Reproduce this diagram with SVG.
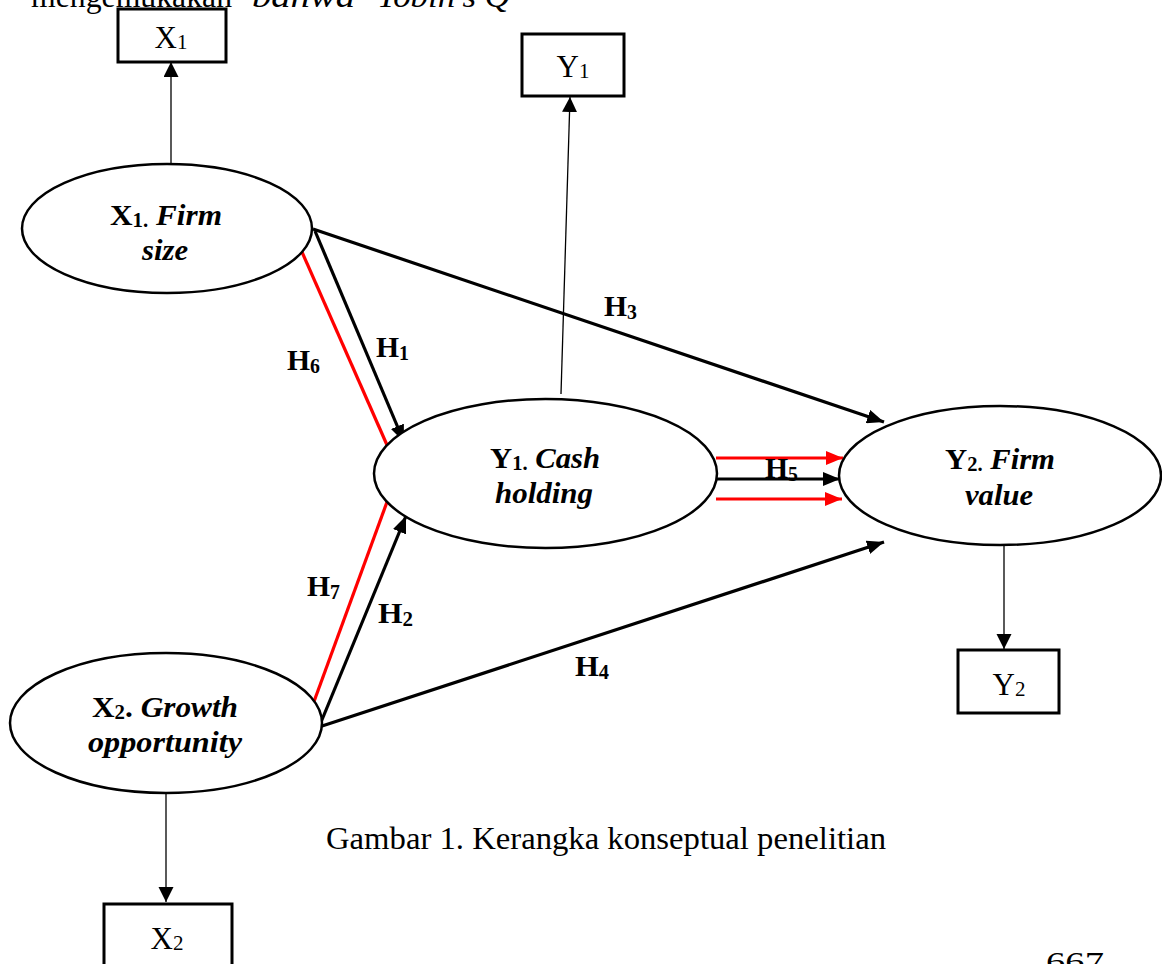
<svg xmlns="http://www.w3.org/2000/svg" width="1162" height="964" viewBox="0 0 1162 964">
<style>
  text { font-family: "Liberation Serif", "Times New Roman", serif; fill: #000; }
  .ell { fill: #fff; stroke: #000; stroke-width: 2.5; }
  .box { fill: #fff; stroke: #000; stroke-width: 3; }
  .thin { stroke: #000; stroke-width: 1.3; fill: none; }
  .thick { stroke: #000; stroke-width: 3.2; fill: none; }
  .red { stroke: #ff0000; stroke-width: 3.2; fill: none; }
  .nt { font-size: 30px; font-weight: bold; text-anchor: middle; }
  .it { font-style: italic; }
  .sub { font-size: 20px; }
  .bx { font-size: 31px; text-anchor: middle; }
  .bsub { font-size: 21px; }
  .hl { font-size: 30px; font-weight: bold; }
  .hsub { font-size: 20px; }
  .cap { font-size: 32px; }
</style>
<defs>
  <marker id="ah" markerUnits="userSpaceOnUse" markerWidth="18" markerHeight="14" refX="17" refY="7" orient="auto">
    <path d="M0,0 L17,7 L0,14 z" fill="#000"/>
  </marker>
  <marker id="ahr" markerUnits="userSpaceOnUse" markerWidth="18" markerHeight="14" refX="17" refY="7" orient="auto">
    <path d="M0,0 L17,7 L0,14 z" fill="#ff0000"/>
  </marker>
  <marker id="ahs" markerUnits="userSpaceOnUse" markerWidth="16" markerHeight="16" refX="15" refY="7.5" orient="auto">
    <path d="M0,0 L15,7.5 L0,15 z" fill="#000"/>
  </marker>
</defs>

<rect width="1162" height="964" fill="#fff"/>

<!-- header text, cut by the top edge as in the reference -->
<g id="header">
  <text x="31" y="7" font-size="32" textLength="201" lengthAdjust="spacingAndGlyphs">mengemukakan</text>
  <text x="252" y="7" font-size="32" font-style="italic" textLength="103" lengthAdjust="spacingAndGlyphs">bahwa</text>
  <text x="377" y="7" font-size="32" font-style="italic" textLength="133" lengthAdjust="spacingAndGlyphs">Tobin's Q</text>
</g>

<!-- connectors -->
<g id="connectors">
  <line class="thin" x1="171" y1="164" x2="171" y2="62" marker-end="url(#ahs)"/>
  <line class="thin" x1="561" y1="394" x2="570" y2="97" marker-end="url(#ahs)"/>
  <line class="thin" x1="1004" y1="544" x2="1004" y2="649" marker-end="url(#ahs)"/>
  <line class="thin" x1="166" y1="793" x2="166" y2="902" marker-end="url(#ahs)"/>

  <line class="thick" x1="313" y1="229" x2="884" y2="422" marker-end="url(#ah)"/>
  <line class="thick" x1="315" y1="231" x2="404" y2="442" marker-end="url(#ah)"/>
  <line class="red" x1="302" y1="252" x2="387" y2="445"/>
  <line class="thick" x1="319" y1="727" x2="406" y2="516" marker-end="url(#ah)"/>
  <line class="red" x1="312" y1="707" x2="387" y2="502"/>
  <line class="thick" x1="319" y1="727" x2="884" y2="542" marker-end="url(#ah)"/>

  <line class="red" x1="716" y1="458" x2="843" y2="458" marker-end="url(#ahr)"/>
  <line class="thick" x1="716" y1="479" x2="840" y2="479" marker-end="url(#ah)"/>
  <line class="red" x1="716" y1="499" x2="842" y2="499" marker-end="url(#ahr)"/>
</g>

<!-- hypothesis labels -->
<g id="labels">
  <text class="hl" x="604" y="316" textLength="33" lengthAdjust="spacingAndGlyphs">H<tspan class="hsub" dy="3">3</tspan></text>
  <text class="hl" x="376" y="357" textLength="33" lengthAdjust="spacingAndGlyphs">H<tspan class="hsub" dy="3">1</tspan></text>
  <text class="hl" x="287" y="370" textLength="33" lengthAdjust="spacingAndGlyphs">H<tspan class="hsub" dy="3">6</tspan></text>
  <text class="hl" x="307" y="596" textLength="33" lengthAdjust="spacingAndGlyphs">H<tspan class="hsub" dy="3">7</tspan></text>
  <text class="hl" x="378" y="623" textLength="35" lengthAdjust="spacingAndGlyphs">H<tspan class="hsub" dy="3">2</tspan></text>
  <text class="hl" x="575" y="676" textLength="34" lengthAdjust="spacingAndGlyphs">H<tspan class="hsub" dy="3">4</tspan></text>
  <text class="hl" x="765" y="478" textLength="33" lengthAdjust="spacingAndGlyphs">H<tspan class="hsub" dy="3">5</tspan></text>
</g>

<!-- indicator boxes -->
<g id="box-X1">
  <rect class="box" x="118" y="9" width="108" height="53"/>
  <text class="bx" x="171" y="48">X<tspan class="bsub" dy="1">1</tspan></text>
</g>
<g id="box-Y1">
  <rect class="box" x="522" y="34" width="102" height="62"/>
  <text class="bx" x="573" y="77">Y<tspan class="bsub" dy="1">1</tspan></text>
</g>
<g id="box-Y2">
  <rect class="box" x="958" y="650" width="101" height="63"/>
  <text class="bx" x="1009" y="695">Y<tspan class="bsub" dy="1">2</tspan></text>
</g>
<g id="box-X2">
  <rect class="box" x="104" y="904" width="128" height="70"/>
  <text class="bx" x="167" y="949">X<tspan class="bsub" dy="1">2</tspan></text>
</g>

<!-- latent nodes -->
<g id="node-X1">
  <ellipse class="ell" cx="167" cy="228.5" rx="145" ry="64.5"/>
  <text class="nt" x="166" y="225" textLength="112" lengthAdjust="spacingAndGlyphs">X<tspan class="sub" dy="2">1.</tspan><tspan dy="-2" class="it"> Firm</tspan></text>
  <text class="nt it" x="165" y="260" textLength="46" lengthAdjust="spacingAndGlyphs">size</text>
</g>
<g id="node-Y1">
  <ellipse class="ell" cx="545.5" cy="473.5" rx="171.5" ry="74.5"/>
  <text class="nt" x="545" y="468" textLength="110" lengthAdjust="spacingAndGlyphs">Y<tspan class="sub" dy="2">1.</tspan><tspan dy="-2" class="it"> Cash</tspan></text>
  <text class="nt it" x="544" y="503" textLength="98" lengthAdjust="spacingAndGlyphs">holding</text>
</g>
<g id="node-Y2">
  <ellipse class="ell" cx="1000" cy="475.5" rx="161" ry="69.5"/>
  <text class="nt" x="1000" y="469" textLength="110" lengthAdjust="spacingAndGlyphs">Y<tspan class="sub" dy="2">2.</tspan><tspan dy="-2" class="it"> Firm</tspan></text>
  <text class="nt it" x="999" y="505" textLength="68" lengthAdjust="spacingAndGlyphs">value</text>
</g>
<g id="node-X2">
  <ellipse class="ell" cx="166" cy="723" rx="156" ry="70"/>
  <text class="nt" x="165" y="717" textLength="146" lengthAdjust="spacingAndGlyphs">X<tspan class="sub" dy="2">2</tspan><tspan dy="-2">.</tspan><tspan class="it"> Growth</tspan></text>
  <text class="nt it" x="165" y="752" textLength="154" lengthAdjust="spacingAndGlyphs">opportunity</text>
</g>

<g id="caption">
  <text class="cap" x="326" y="849" textLength="560" lengthAdjust="spacingAndGlyphs">Gambar 1. Kerangka konseptual penelitian</text>
</g>
<g id="page-number">
  <text x="1046" y="972" font-size="30" textLength="58" lengthAdjust="spacingAndGlyphs">667</text>
</g>
</svg>
